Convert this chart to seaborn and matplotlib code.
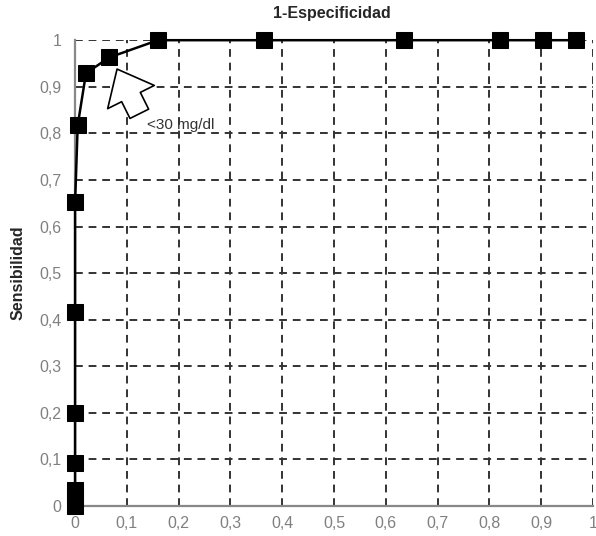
import matplotlib
matplotlib.use("Agg")
import matplotlib.pyplot as plt
import seaborn as sns
import pandas as pd

# puntos de la curva ROC
fpr = [0.0, 0.0, 0.0, 0.0, 0.0, 0.0, 0.0, 0.005, 0.021, 0.066, 0.16, 0.365, 0.635, 0.82, 0.904, 0.967]
sens = [0.0, 0.02, 0.035, 0.092, 0.2, 0.416, 0.652, 0.817, 0.929, 0.963, 1.0, 1.0, 1.0, 1.0, 1.0, 1.0]
ticks = [0, 0.1, 0.2, 0.3, 0.4, 0.5, 0.6, 0.7, 0.8, 0.9, 1]
tick_labels = ["0", "0,1", "0,2", "0,3", "0,4", "0,5", "0,6", "0,7", "0,8", "0,9", "1"]

df = pd.DataFrame({"fpr": fpr, "sens": sens})

sns.set_style("white")
plt.rcParams["font.family"] = ["Liberation Sans", "DejaVu Sans"]

fig = plt.figure(figsize=(5.96, 5.36), dpi=100)
ax = fig.add_axes([0.126, 0.056, 0.869, 0.869])

sns.lineplot(data=df, x="fpr", y="sens", sort=False, estimator=None,
             color="black", linewidth=1.8, marker="s", markersize=11,
             markeredgecolor="black", markerfacecolor="black", ax=ax, clip_on=False, zorder=5)

ax.set_xlim(0, 1)
ax.set_ylim(0, 1)
ax.set_xticks(ticks)
ax.set_yticks(ticks)
ax.set_xticklabels(tick_labels)
ax.set_yticklabels(tick_labels)
ax.tick_params(axis="both", length=0, labelsize=11.5, labelcolor="#808080")
ax.tick_params(axis="x", pad=7)
ax.tick_params(axis="y", pad=10)

ax.grid(True, linestyle=(0, (4, 3)), color="#333333", linewidth=1.4)
for s in ["top", "right"]:
    ax.spines[s].set_visible(False)
for s in ["left", "bottom"]:
    ax.spines[s].set_color("#888888")
    ax.spines[s].set_linewidth(1.6)
    ax.spines[s].set_zorder(4)

ax.set_xlabel("")
ax.set_ylabel("Sensibilidad", fontsize=11.5, fontweight="bold", labelpad=10)
ax.set_title("1-Especificidad", fontsize=11.5, fontweight="bold", pad=16, x=0.495)

# flecha hueca y etiqueta
ax.annotate("", xy=(0.081, 0.938), xytext=(0.124, 0.842),
            arrowprops=dict(arrowstyle="simple,head_length=0.9,head_width=1.5,tail_width=0.6",
                            fc="white", ec="black", lw=1.2, mutation_scale=25,
                            shrinkA=0, shrinkB=0), zorder=6)
ax.text(0.138, 0.818, "<30 mg/dl", fontsize=11, color="#333333", va="center", ha="left")

plt.savefig("out.png", dpi=100)
